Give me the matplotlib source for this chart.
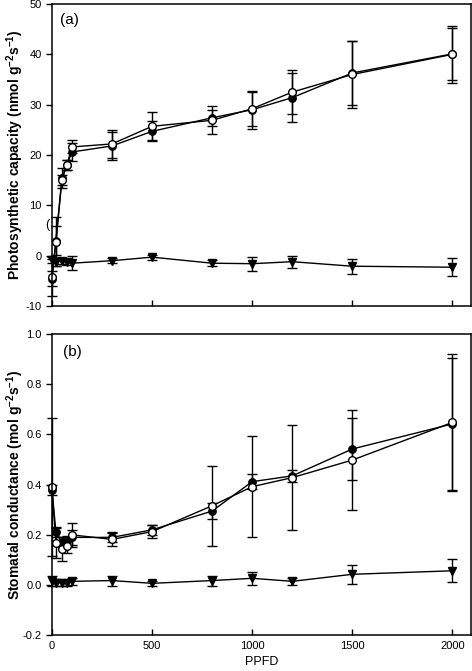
import numpy as np
import matplotlib
matplotlib.use('Agg')
import matplotlib.pyplot as plt
from matplotlib.ticker import FormatStrFormatter

plt.rcParams['font.family'] = ['Liberation Sans', 'DejaVu Sans']
plt.rcParams['axes.unicode_minus'] = False

ppfd = [0, 20, 50, 75, 100, 300, 500, 800, 1000, 1200, 1500, 2000]

# (a) photosynthetic capacity
a_fill = [-4.6, 3.0, 15.5, 18.0, 20.6, 21.8, 24.7, 27.4, 29.0, 31.4, 36.3, 40.1]
a_fill_err = [1.5, 2.8, 2.0, 1.0, 1.7, 2.8, 2.0, 1.6, 3.8, 4.9, 6.4, 5.1]
a_open = [-4.3, 2.8, 15.1, 18.1, 21.6, 22.2, 25.7, 26.9, 29.2, 32.5, 36.0, 40.0]
a_open_err = [3.7, 4.9, 1.0, 1.0, 1.3, 2.8, 2.8, 2.8, 3.4, 4.4, 6.6, 5.6]
a_tri = [-0.8, -1.2, -1.0, -1.3, -1.5, -1.0, -0.3, -1.5, -1.6, -1.2, -2.1, -2.3]
a_tri_err = [0.6, 0.8, 0.6, 0.6, 1.4, 0.5, 0.5, 0.6, 1.4, 1.2, 1.5, 1.8]

# (b) stomatal conductance
b_fill = [0.380, 0.213, 0.170, 0.175, 0.190, 0.190, 0.220, 0.295, 0.412, 0.435, 0.542, 0.642]
b_fill_err = [0.020, 0.020, 0.020, 0.020, 0.030, 0.020, 0.020, 0.033, 0.030, 0.025, 0.125, 0.262]
b_open = [0.389, 0.169, 0.144, 0.157, 0.200, 0.182, 0.213, 0.316, 0.392, 0.428, 0.498, 0.648]
b_open_err = [0.275, 0.060, 0.048, 0.030, 0.047, 0.025, 0.025, 0.160, 0.200, 0.210, 0.200, 0.272]
b_tri = [0.015, 0.010, 0.008, 0.010, 0.015, 0.018, 0.007, 0.018, 0.027, 0.015, 0.043, 0.057]
b_tri_err = [0.020, 0.015, 0.010, 0.012, 0.015, 0.020, 0.010, 0.020, 0.027, 0.015, 0.038, 0.046]

xticks = [0, 500, 1000, 1500, 2000]

fig = plt.figure(figsize=(4.72, 6.71), dpi=100)
ax1 = fig.add_axes([0.110, 0.544, 0.888, 0.450])
ax2 = fig.add_axes([0.110, 0.0532, 0.888, 0.449])

ekw = dict(color='black', ecolor='black', lw=1.0, elinewidth=1.0, capsize=3.6,
           capthick=1.0, clip_on=False)


def draw(ax, fill, fill_err, opn, opn_err, tri, tri_err):
    ax.errorbar(ppfd, tri, yerr=tri_err, marker='v', ms=6, mfc='black', mec='black', **ekw)
    ax.errorbar(ppfd, fill, yerr=fill_err, marker='o', ms=5.3, mfc='black', mec='black', **ekw)
    ax.errorbar(ppfd, opn, yerr=opn_err, marker='o', ms=5.5, mfc='white', mec='black',
                mew=1.0, **ekw)
    ax.set_xlim(0, 2093)
    ax.set_xticks(xticks)
    ax.tick_params(axis='x', direction='in', length=4, width=1)
    ax.tick_params(axis='y', direction='out', length=4, width=1, labelsize=8)
    ax.tick_params(axis='x', labelsize=8, pad=4)
    for s in ax.spines.values():
        s.set_linewidth(1.1)


draw(ax1, a_fill, a_fill_err, a_open, a_open_err, a_tri, a_tri_err)
ax1.set_ylim(-10, 50)
ax1.set_yticks([-10, 0, 10, 20, 30, 40, 50])
ax1.tick_params(axis='x', labelbottom=False)
ax1.set_ylabel(r'Photosynthetic capacity (nmol g$^{\mathregular{-2}}$s$^{\mathregular{-1}}$)',
               fontsize=10, fontweight='bold')
ax1.yaxis.set_label_coords(-0.062, 0.5)
ax1.text(0.019, 0.947, '(a)', transform=ax1.transAxes, fontsize=11, va='center')
ax1.text(-25, 6.0, '(', fontsize=9, ha='center', va='center', clip_on=False)

draw(ax2, b_fill, b_fill_err, b_open, b_open_err, b_tri, b_tri_err)
ax2.set_ylim(-0.2, 1.0)
ax2.set_yticks([-0.2, 0.0, 0.2, 0.4, 0.6, 0.8, 1.0])
ax2.yaxis.set_major_formatter(FormatStrFormatter('%.1f'))
ax2.set_ylabel(r'Stomatal conductance (mol g$^{\mathregular{-2}}$s$^{\mathregular{-1}}$)',
               fontsize=10, fontweight='bold')
ax2.yaxis.set_label_coords(-0.062, 0.5)
ax2.set_xlabel('PPFD', fontsize=9, labelpad=4)
ax2.text(0.026, 0.94, '(b)', transform=ax2.transAxes, fontsize=11, va='center')

fig.savefig('out.png', dpi=100)
